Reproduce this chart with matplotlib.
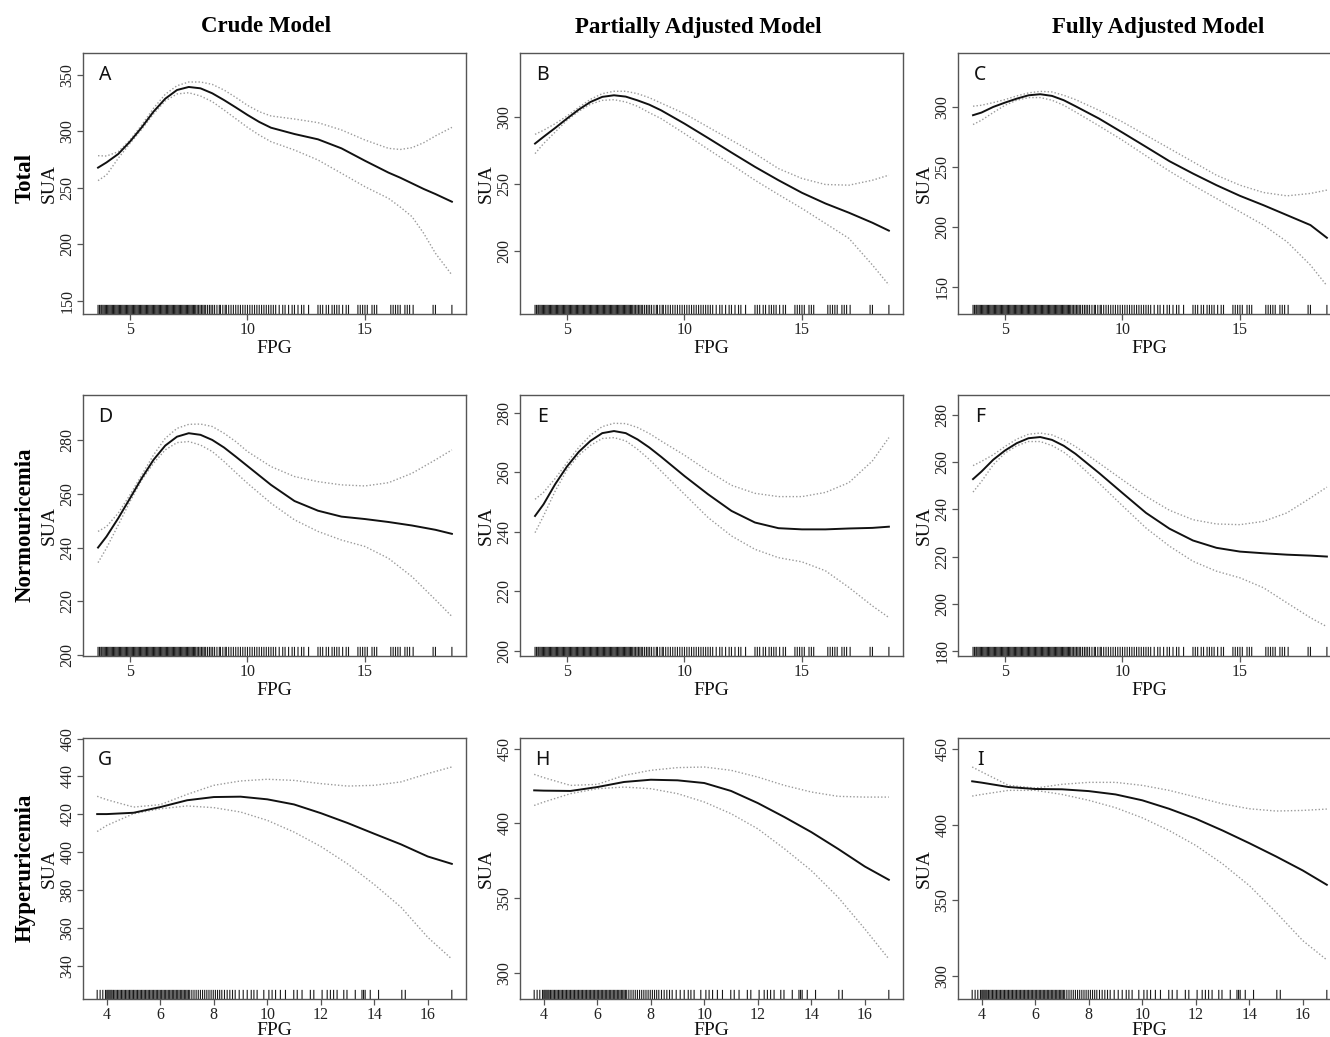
import matplotlib
matplotlib.use("Agg")
import matplotlib.pyplot as plt

plt.rcParams['font.family'] = ['Liberation Serif', 'DejaVu Serif']

W, H = 1330, 1037

col_titles = ["Crude Model", "Partially Adjusted Model", "Fully Adjusted Model"]
row_titles = ["Total", "Normouricemia", "Hyperuricemia"]
letters = ["A", "B", "C", "D", "E", "F", "G", "H", "I"]

# ---- curves (FPG, SUA fit, upper CI, lower CI) ----
fpg_a = [3.64, 4, 4.5, 5, 5.5, 6, 6.5, 7, 7.5, 8, 8.5, 9, 9.5, 10, 10.5, 11, 12, 13, 14, 15, 16, 16.5, 17, 17.5, 18, 18.7]
sua_a = [267.9, 272.5, 280, 291, 303.6, 317.5, 329, 336.7, 339.4, 338.2, 333.8, 327.8, 321.3, 314.6, 308.4, 303.3, 297.7, 293, 285, 274, 263.5, 259, 254, 249, 244.5, 237.7]
up_a = [278.5, 278.2, 282, 292.4, 305.7, 320.5, 332.9, 340.5, 343.8, 343.8, 341.7, 336.7, 330.2, 323.1, 317.5, 313.7, 311, 307.8, 301.3, 292.4, 285, 284, 285.6, 290, 296, 303.6]
lo_a = [256.4, 261.4, 276.2, 289.4, 301.9, 315.4, 327, 333.2, 334.3, 331.4, 326.4, 319, 311.3, 303.6, 296.8, 290.9, 283.5, 274.7, 262.9, 251, 240.7, 233, 224.5, 209.7, 192, 172.8]

fpg_b = [3.64, 4, 4.5, 5, 5.5, 6, 6.5, 7, 7.5, 8, 8.5, 9, 10, 11, 12, 13, 14, 15, 16, 17, 18, 18.7]
sua_b = [280.1, 285.1, 291.8, 298.8, 305.5, 311.2, 315, 316.2, 315.2, 312.4, 309.2, 305, 295, 284.3, 273.4, 262.7, 252.7, 243.3, 235.3, 228.4, 220.9, 215]
up_b = [287, 290, 295, 300.7, 307.2, 313.2, 317.4, 319.2, 319.2, 317.4, 314.4, 310.4, 302.5, 292.5, 282.6, 272.6, 261.4, 254, 249.5, 249, 252.7, 256.5]
lo_b = [272.6, 280, 288.8, 297.5, 304.2, 309.5, 312.4, 312.9, 311.2, 308, 303.2, 298.8, 287.6, 275.9, 264.4, 252.7, 242, 231.6, 220.4, 209.2, 189.3, 174.4]

fpg_c = [3.64, 4, 4.5, 5, 5.5, 6, 6.5, 7, 7.5, 8, 9, 10, 11, 12, 13, 14, 15, 16, 17, 18, 18.7]
sua_c = [293.1, 295.3, 300, 303.6, 306.9, 309.7, 310.6, 309.2, 305.6, 300.6, 290.3, 278.6, 266.7, 254.7, 244.4, 234.7, 225.8, 218, 209.7, 201.4, 190.8]
up_c = [300.6, 301.4, 303.6, 306.1, 309.2, 311.7, 313, 312.5, 309.7, 306.1, 297.2, 287.5, 276.4, 265.3, 254.2, 243, 234.7, 228.6, 225.8, 227.8, 230.6]
lo_c = [285.3, 288.9, 295.3, 301.4, 305.6, 307.8, 307.8, 305.6, 301.4, 295.8, 284.2, 272.2, 259.2, 246.4, 234.7, 223.6, 212.5, 201.4, 187.5, 168, 150.8]

fpg_d = [3.64, 4, 4.5, 5, 5.5, 6, 6.5, 7, 7.5, 8, 8.5, 9, 9.5, 10, 11, 12, 13, 14, 15, 16, 17, 18, 18.7]
sua_d = [240, 244.1, 250.9, 258.3, 265.8, 272.6, 277.9, 281.2, 282.5, 281.9, 280, 277.2, 273.8, 270.3, 263.3, 257.3, 253.7, 251.5, 250.6, 249.5, 248.2, 246.6, 245.1]
up_d = [246, 247.8, 252.8, 259.6, 267, 274.4, 280.6, 284.3, 285.8, 285.9, 285, 282.5, 279.4, 275.7, 270.1, 266.4, 264.5, 263.3, 262.9, 264.1, 267.6, 272.6, 276.3]
lo_d = [234.4, 239.8, 248.4, 257.1, 265.1, 271.3, 276.3, 279, 279.4, 278.1, 275.7, 272, 267.9, 263.9, 256.5, 250.3, 246, 242.8, 240.4, 236, 229.2, 220.6, 214.4]

fpg_e = [3.64, 4, 4.5, 5, 5.5, 6, 6.5, 7, 7.5, 8, 8.5, 9, 10, 11, 12, 13, 14, 15, 16, 17, 18, 18.7]
sua_e = [245.3, 249.2, 256, 261.9, 266.8, 270.5, 273.1, 273.8, 273.1, 271, 268.3, 265.2, 258.7, 252.6, 247, 243.1, 241.2, 240.8, 240.8, 241.1, 241.3, 241.7]
up_e = [250.9, 253.2, 257.9, 263.2, 268.3, 272.4, 275.3, 276.4, 276.3, 275, 273, 270.5, 265.7, 260.4, 255.6, 252.9, 251.8, 251.8, 253.2, 256.5, 263.8, 271.6]
lo_e = [239.7, 245.3, 253.7, 260.8, 265.7, 269, 271.3, 271.6, 270.5, 267.7, 264.3, 260.4, 252.6, 244.8, 238.6, 234.1, 231.3, 229.9, 226.9, 221.3, 215.1, 211.2]

fpg_f = [3.64, 4, 4.5, 5, 5.5, 6, 6.5, 7, 7.5, 8, 9, 10, 11, 12, 13, 14, 15, 16, 17, 18, 18.7]
sua_f = [252.8, 256, 261, 264.9, 268, 270.1, 270.6, 269.4, 266.9, 263.5, 255.4, 246.9, 238.5, 231.8, 226.8, 223.7, 222.1, 221.4, 220.8, 220.4, 220]
up_f = [258.5, 260.3, 263.1, 266.6, 269.7, 271.8, 272.3, 271.5, 269.4, 266.6, 259.6, 252.5, 245.5, 239.6, 235.6, 233.8, 233.5, 234.9, 238.5, 244.8, 249.4]
lo_f = [247.3, 251.8, 258.9, 263.8, 266.9, 268.7, 268.7, 267, 264.2, 260.3, 251.1, 241.5, 232.1, 224.4, 218, 213.8, 211, 206.8, 200.4, 194.1, 190.3]

fpg_g = [3.64, 4, 5, 6, 7, 8, 9, 10, 11, 12, 13, 14, 15, 16, 16.9]
sua_g = [420.1, 420.1, 420.8, 423.8, 427.4, 429.1, 429.3, 427.9, 425.2, 420.6, 415.4, 409.7, 404.1, 397.7, 393.8]
up_g = [429.5, 427.7, 423.8, 425.1, 430.5, 435.3, 437.6, 438.5, 437.9, 436.2, 434.9, 435.3, 437.1, 441.5, 445]
lo_g = [410.9, 414.1, 420.3, 422.9, 424.4, 423.5, 421.2, 416.8, 410.6, 403, 393.8, 382.9, 370.9, 355, 343.5]

fpg_h = [3.64, 4, 5, 6, 7, 8, 9, 10, 11, 12, 13, 14, 15, 16, 16.9]
sua_h = [422.1, 421.9, 421.7, 424.3, 427.7, 429.2, 428.8, 427, 421.7, 413.6, 404.2, 394.2, 383, 371.2, 362.3]
up_h = [432.8, 430.6, 425.4, 426.1, 432.1, 435.5, 437.3, 437.7, 435.5, 431, 425.4, 421, 418.1, 417.6, 417.6]
lo_h = [412, 414.3, 419.9, 423.2, 424.3, 423.2, 419.9, 414.3, 406.5, 396.4, 383, 368.5, 350.7, 329.5, 309.4]

fpg_i = [3.64, 4, 5, 6, 7, 8, 9, 10, 11, 12, 13, 14, 15, 16, 16.9]
sua_i = [428.8, 427.9, 425, 423.7, 423.5, 422.3, 420.1, 416.2, 410.6, 404, 396.2, 387.8, 379, 369.7, 360.2]
up_i = [438.3, 435, 426.1, 424.3, 426.8, 428.1, 428.1, 426.1, 422.8, 418.4, 413.9, 410.6, 409.1, 409.5, 410.4]
lo_i = [419, 420.1, 422.8, 422.8, 420.1, 416.2, 411.3, 404.6, 396.2, 386.3, 374.1, 359.7, 342, 323.2, 310.4]

rug_all = [3.64, 3.70, 3.76, 3.80, 3.85, 3.90, 3.95, 4.00, 4.05, 4.10, 4.15, 4.20, 4.25, 4.30,
           4.35, 4.40, 4.45, 4.50, 4.55, 4.60, 4.65, 4.70, 4.75, 4.80, 4.85, 4.90, 4.95, 5.00,
           5.05, 5.10, 5.15, 5.20, 5.25, 5.30, 5.35, 5.40, 5.45, 5.50, 5.55, 5.60, 5.65, 5.70,
           5.75, 5.80, 5.85, 5.90, 5.95, 6.00, 6.05, 6.10, 6.15, 6.20, 6.25, 6.30, 6.35, 6.40,
           6.45, 6.50, 6.55, 6.60, 6.65, 6.70, 6.75, 6.80, 6.85, 6.90, 6.95, 7.00, 7.05, 7.10,
           7.15, 7.20, 7.25, 7.30, 7.35, 7.40, 7.45, 7.50, 7.55, 7.60, 7.65, 7.70, 7.75, 7.80,
           7.86, 7.92, 7.98, 8.04, 8.10, 8.16, 8.22, 8.30, 8.38, 8.45, 8.52, 8.60,
           8.70, 8.80, 8.85, 8.95, 9.05, 9.10, 9.20, 9.30, 9.40, 9.50, 9.60, 9.70, 9.80, 9.90,
           10.0, 10.1, 10.2, 10.3, 10.4, 10.5, 10.6, 10.7, 10.8, 10.9, 11.0, 11.1, 11.2, 11.35,
           11.5, 11.6, 11.75, 11.9, 12.0, 12.15, 12.3, 12.4, 12.6, 13.0, 13.1, 13.2, 13.35,
           13.45, 13.6, 13.7, 13.8, 13.9, 14.05, 14.2, 14.3, 14.7, 14.8, 14.9, 15.0, 15.1,
           15.3, 15.4, 15.5, 16.1, 16.2, 16.3, 16.4, 16.5, 16.7, 16.8, 16.9, 17.05, 17.9,
           18.0, 18.7]
rug_hyper = [3.64, 3.75, 3.85, 3.95, 4.00, 4.04, 4.08, 4.12, 4.16, 4.20, 4.25, 4.30, 4.35,
             4.40, 4.45, 4.50, 4.55, 4.60, 4.65, 4.70, 4.75, 4.80, 4.85, 4.90, 4.95, 5.00,
             5.05, 5.10, 5.15, 5.20, 5.25, 5.30, 5.35, 5.40, 5.45, 5.50, 5.55, 5.60, 5.65,
             5.70, 5.75, 5.80, 5.85, 5.90, 5.95, 6.00, 6.05, 6.10, 6.15, 6.20, 6.25, 6.30,
             6.35, 6.40, 6.45, 6.50, 6.55, 6.60, 6.65, 6.70, 6.75, 6.80, 6.85, 6.90, 6.95,
             7.00, 7.05, 7.10, 7.18, 7.26, 7.34, 7.42, 7.50, 7.58, 7.66, 7.74, 7.82, 7.90,
             7.98, 8.06, 8.14, 8.22, 8.30, 8.40, 8.50, 8.60, 8.70, 8.80, 8.95, 9.10, 9.25,
             9.40, 9.50, 9.62, 9.87, 10.06, 10.18, 10.31, 10.49, 10.68, 10.99, 11.12, 11.30,
             11.61, 11.74, 12.05, 12.24, 12.36, 12.48, 12.61, 12.86, 12.98, 13.29, 13.54,
             13.60, 13.66, 13.85, 14.16, 15.03, 15.16, 16.9]

panels = [
    (fpg_a, sua_a, up_a, lo_a), (fpg_b, sua_b, up_b, lo_b), (fpg_c, sua_c, up_c, lo_c),
    (fpg_d, sua_d, up_d, lo_d), (fpg_e, sua_e, up_e, lo_e), (fpg_f, sua_f, up_f, lo_f),
    (fpg_g, sua_g, up_g, lo_g), (fpg_h, sua_h, up_h, lo_h), (fpg_i, sua_i, up_i, lo_i),
]
ylims = [(138.2, 369.5), (152.7, 347.8), (127.2, 345),
         (199.7, 296.7), (198.3, 285.9), (177.9, 288.4),
         (322.4, 460.3), (282.6, 457.1), (284.5, 457.5)]
yticks = [[150, 200, 250, 300, 350], [200, 250, 300], [150, 200, 250, 300],
          [200, 220, 240, 260, 280], [200, 220, 240, 260, 280], [180, 200, 220, 240, 260, 280],
          [340, 360, 380, 400, 420, 440, 460], [300, 350, 400, 450], [300, 350, 400, 450]]

col_left = [83, 520, 958]
row_top = [53, 395, 738]
ax_w, ax_h = 383, 261
edge = "#555555"

fig = plt.figure(figsize=(W / 100, H / 100), dpi=100)

for k, (x, y, up, lo) in enumerate(panels):
    r, c = divmod(k, 3)
    ax = fig.add_axes([col_left[c] / W, 1 - (row_top[r] + ax_h) / H, ax_w / W, ax_h / H])
    ax.plot(x, up, color="#9a9a9a", lw=1.0, ls=(0, (1, 1.5)))
    ax.plot(x, lo, color="#9a9a9a", lw=1.0, ls=(0, (1, 1.5)))
    ax.plot(x, y, color="#111111", lw=1.4, solid_joinstyle="round")

    rug = rug_hyper if r == 2 else rug_all
    y0, y1 = ylims[k]
    tick_h = (y1 - y0) * 0.035
    rl = ax.vlines(rug, y0, y0 + tick_h, color="#000000", lw=0.8, alpha=0.9)
    rl.set_snap(False)

    ax.set_ylim(y0, y1)
    if r == 2:
        ax.set_xlim(3.11, 17.43)
        ax.set_xticks([4, 6, 8, 10, 12, 14, 16])
    else:
        ax.set_xlim(3.0, 19.3)
        ax.set_xticks([5, 10, 15])
    ax.set_yticks(yticks[k])
    for s in ax.spines.values():
        s.set_color(edge)
        s.set_linewidth(1.0)
    ax.tick_params(axis="both", direction="out", length=4.5, width=0.9, color=edge,
                   labelsize=11.5, labelcolor="#222222")
    ax.tick_params(axis="x", pad=(1 if r == 2 else 1.5))
    ax.tick_params(axis="y", pad=1, labelrotation=90)
    for lab in ax.get_yticklabels():
        lab.set_verticalalignment("center")
    ax.set_xlabel("FPG", fontsize=14, color="#111111", labelpad=(-0.8 if r == 2 else 1))
    ax.set_ylabel("SUA", fontsize=14, color="#111111", labelpad=1)
    ax.text(0.058, 0.915, letters[k], transform=ax.transAxes, ha="center", va="center",
            fontsize=14, family=["Noto Sans", "DejaVu Sans"], fontweight="semibold", color="#111111")

title_x = [266, 698, 1158]
for t, xc in zip(col_titles, title_x):
    fig.text(xc / W, 1 - 27 / H, t, ha="center", va="center", fontsize=16.5, fontweight="bold")

row_y = [178, 525, 868]
for t, yc in zip(row_titles, row_y):
    fig.text(25 / W, 1 - yc / H, t, ha="center", va="center", rotation=90,
             fontsize=16.5, fontweight="bold")

fig.savefig("out.png", dpi=100)
